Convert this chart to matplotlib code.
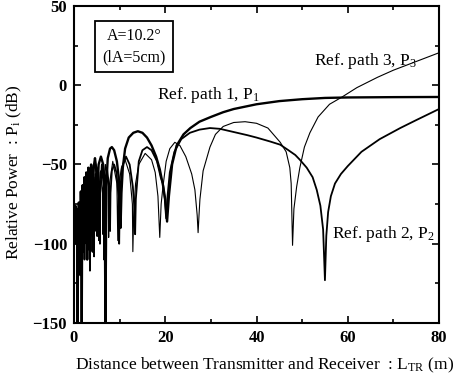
import numpy as np
import matplotlib
matplotlib.use("Agg")
import matplotlib.pyplot as plt
from matplotlib.ticker import MultipleLocator

plt.rcParams["font.family"] = "Liberation Serif"
plt.rcParams["mathtext.fontset"] = "custom"
plt.rcParams["mathtext.rm"] = "Liberation Serif"
plt.rcParams["mathtext.it"] = "Liberation Serif:italic"

# Ref. path 1 (thick)
p1_x = [0.0, 0.3, 0.5, 0.7, 0.8, 0.9, 1.05, 1.2, 1.3, 1.4, 1.5, 1.6, 1.7, 1.8,
        1.9, 2.0, 2.1, 2.2, 2.3, 2.4, 2.5, 2.6, 2.7, 2.8, 2.9, 3.0, 3.15, 3.3,
        3.4, 3.5, 3.75, 4.0, 4.1, 4.2, 4.35, 4.6, 4.85, 5.0, 5.1, 5.2, 5.4, 5.9,
        6.4, 6.7, 6.9, 7.1, 7.4, 7.9, 8.3, 8.8, 9.4, 9.8, 10.0, 10.2, 10.4, 10.7,
        11.2, 12.0, 13.0, 14.0, 15.0, 16.0, 17.0, 18.0, 18.8, 19.5, 20.0, 20.4,
        20.8, 21.5, 22.5, 24.0, 25.5, 27.5, 30.0, 32.7, 35.0, 40.0, 45.0, 50.0,
        55.0, 60.0, 70.0, 80.0]
p1_y = [-82, -76, -78, -95, -150, -95, -74, -82, -100, -80, -67, -78, -150, -78,
        -63, -72, -105, -70, -58, -68, -95, -66, -55, -64, -110, -64, -52, -62,
        -100, -62, -50, -60, -105, -62, -51, -46, -52, -66, -95, -64, -50, -45,
        -50, -62, -150, -62, -46, -40, -39, -41, -48, -58, -70, -90, -68, -52,
        -40, -33, -30, -29, -30, -33, -38, -45, -53, -63, -72, -86,
        -70, -50, -38, -31, -27, -23, -20, -17, -15, -12, -10, -8.8,
        -8, -7.7, -7.5, -7.4]

# Ref. path 2 (thick)
p2_x = [0.0, 0.2, 0.35, 0.4, 0.45, 0.65, 0.85, 0.9, 0.95, 1.15, 1.35, 1.4, 1.45,
        1.65, 1.85, 1.9, 1.95, 2.1, 2.25, 2.3, 2.35, 2.5, 2.65, 2.7, 2.75, 2.9,
        3.05, 3.1, 3.15, 3.3, 3.45, 3.5, 3.55, 3.7, 3.85, 3.9, 3.95, 4.15, 4.35,
        4.4, 4.45, 4.7, 4.95, 5.0, 5.05, 5.35, 5.65, 5.7, 5.75, 6.1, 6.5, 6.6,
        6.7, 7.2, 7.8, 7.9, 8.0, 8.3, 8.8, 9.3, 9.75, 9.9, 10.05, 10.5, 11.4,
        12.2, 12.9, 13.3, 13.4, 13.55, 14.2, 15.0, 16.0, 17.0, 18.2, 19.0, 19.5,
        19.9, 20.2, 20.5, 21.0, 22.0, 23.5, 25.4, 27.5, 29.8, 32.0, 35.0, 38.0,
        40.0, 43.0, 45.2, 47.0, 48.5, 49.5, 51.0, 52.3, 53.2, 54.0, 54.6, 55.0,
        55.3, 55.7, 56.3, 57.2, 58.5, 60.0, 63.0, 67.0, 71.5, 75.0, 80.0]
p2_y = [-84, -82, -88, -100, -88, -80, -90, -105, -90, -76, -88, -120, -88,
        -72, -84, -100, -84, -70, -80, -110, -80, -66, -78, -95, -78, -64,
        -75, -100, -75, -62, -74, -117, -74, -60, -72, -95, -70, -55, -68,
        -108, -68, -56, -70, -90, -70, -55, -68, -100, -68, -50, -64, -110,
        -64, -52, -66, -92, -68, -54, -50, -55, -70, -100, -70, -52, -45,
        -50, -64, -80, -94, -72, -48, -41, -39, -41, -48, -58, -62,
        -72, -84, -70, -55, -42, -34, -30, -28, -27, -27.5, -29.5, -31.5,
        -33, -35.5, -37.5, -41, -44, -47, -52, -58, -66, -76, -91, -123,
        -95, -80, -70, -62, -56, -51, -42, -34, -27, -22, -15]

# Ref. path 3 (thin)
p3_x = [0.0, 0.12, 0.22, 0.25, 0.28, 0.42, 0.56, 0.6, 0.64, 0.8, 0.96, 1.0, 1.04,
        1.2, 1.36, 1.4, 1.44, 1.57, 1.71, 1.75, 1.79, 1.92, 2.06, 2.1, 2.14,
        2.27, 2.41, 2.45, 2.49, 2.62, 2.76, 2.8, 2.84, 3.0, 3.15, 3.2, 3.25, 3.4,
        3.55, 3.6, 3.65, 3.85, 4.05, 4.1, 4.15, 4.4, 4.65, 4.7, 4.75, 5.0, 5.35,
        5.4, 5.45, 5.8, 6.25, 6.3, 6.35, 6.9, 7.5, 7.6, 7.7, 8.5, 9.4, 9.6, 9.8,
        10.4, 11.2, 12.2, 12.8, 12.9, 13.1, 13.5, 14.2, 15.6, 17.0, 17.8, 18.4,
        18.8, 19.1, 19.5, 20.2, 21.0, 22.1, 23.2, 24.5, 25.8, 26.5, 27.0, 27.2,
        27.4, 27.6, 28.3, 29.8, 31.0, 32.7, 35.0, 37.5, 40.0, 42.5, 45.2, 46.5,
        47.3, 47.6, 47.9, 48.2, 48.8, 49.5, 50.5, 51.7, 53.5, 56.0, 58.7, 62.0,
        66.5, 70.0, 75.0, 80.0]
p3_y = [-83, -80, -88, -95, -88, -80, -90, -110, -90, -78, -88, -100, -88,
        -76, -86, -92, -86, -74, -86, -105, -86, -72, -84, -95, -82,
        -70, -82, -100, -82, -68, -80, -92, -78, -66, -78, -104, -76, -64,
        -76, -96, -74, -62, -74, -100, -72, -58, -72, -92, -70, -57, -70,
        -98, -68, -54, -68, -94, -66, -50, -64, -96, -64, -48, -62, -98, -64,
        -52, -47, -56, -75, -105, -80, -62, -50, -43, -47, -55, -70,
        -96, -75, -64, -48, -40, -36, -38, -45, -56, -66, -82, -93,
        -82, -72, -54, -39, -31, -26, -23.5, -23, -24, -27, -36, -42,
        -52, -62, -101, -78, -64, -52, -39, -30, -20, -12, -7.5, -1.5,
        5, 9.5, 15, 20.5]

fig = plt.figure(figsize=(4.61, 3.83), dpi=100)
ax = fig.add_axes([0.1605, 0.1567, 0.7918, 0.8276])

ax.plot(p3_x, p3_y, color="black", lw=0.8)
ax.plot(p2_x, p2_y, color="black", lw=1.3)
ax.plot(p1_x, p1_y, color="black", lw=1.7)

ax.set_xlim(0, 80)
ax.set_ylim(-150, 50)
ax.xaxis.set_major_locator(MultipleLocator(20))
ax.xaxis.set_minor_locator(MultipleLocator(10))
ax.yaxis.set_major_locator(MultipleLocator(50))
ax.yaxis.set_minor_locator(MultipleLocator(25))
ax.tick_params(which="both", direction="in", top=True, right=True, width=1.2)
ax.tick_params(which="major", length=5, labelsize=12, pad=5)
ax.tick_params(which="minor", length=3)
for lab in ax.get_xticklabels() + ax.get_yticklabels():
    lab.set_fontweight("bold")
for sp in ax.spines.values():
    sp.set_linewidth(1.5)

ax.set_xlabel(r"Distance between Transmitter and Receiver  : L$_\mathrm{TR}$ (m)",
              fontsize=12.5)
ax.set_ylabel(r"Relative Power  : P$_\mathrm{i}$ (dB)", fontsize=12.5)
ax.xaxis.set_label_coords(0.523, -0.105)
ax.yaxis.set_label_coords(-0.137, 0.476)

ax.text(0.164, 0.872, "A=10.2\u00b0\n(lA=5cm)", transform=ax.transAxes,
        fontsize=11.5, ha="center", va="center", linespacing=1.4,
        bbox=dict(boxstyle="square,pad=0.45", fc="white", ec="black", lw=1.3))

ax.text(18.2, -8.9, r"Ref. path 1, P$_\mathrm{1}$", fontsize=12.5, ha="left",
        va="baseline")
ax.text(52.5, 12.8, r"Ref. path 3, P$_\mathrm{3}$", fontsize=12.5, ha="left",
        va="baseline")
ax.text(56.5, -96.2, r"Ref. path 2, P$_\mathrm{2}$", fontsize=12.5, ha="left",
        va="baseline")

fig.savefig("out.png", dpi=100)
